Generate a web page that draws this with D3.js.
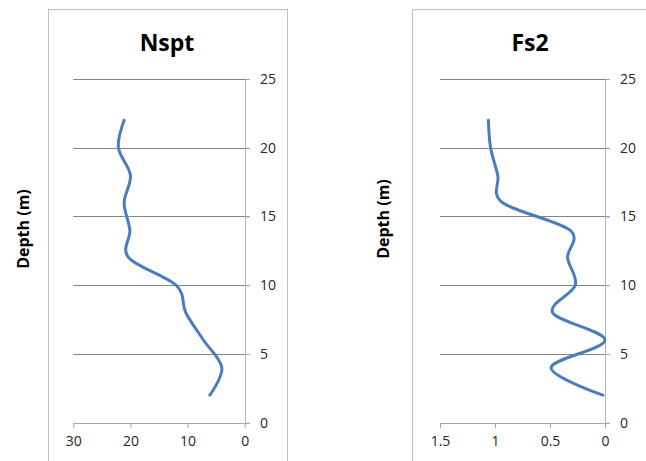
<!DOCTYPE html>
<html>
<head>
<meta charset="utf-8">
<script src="https://cdn.jsdelivr.net/npm/d3@7/dist/d3.min.js"></script>
<style>
  html, body { margin: 0; padding: 0; background: #fff; }
  svg { display: block; }
  text { font-family: "Open Sans", "Liberation Sans", sans-serif; }
</style>
</head>
<body>
<svg id="chart" width="646" height="461"></svg>
<script>
// ---- data ----
const depths = [2, 4, 6, 8, 10, 12, 14, 16, 18, 20, 22];
const nspt   = [6.1, 4.0, 7.2, 10.3, 12.0, 20.3, 20.1, 21.1, 20.0, 22.1, 21.1];
const fs2    = [0.02, 0.49, 0.0, 0.475, 0.27, 0.34, 0.318, 0.93, 0.975, 1.04, 1.06];
const depthTicks = [0, 5, 10, 15, 20, 25];
const nsptTicks = [30, 20, 10, 0];
const fs2Ticks = [1.5, 1, 0.5, 0];
const titles = ["Nspt", "Fs2"];
const yLabel = "Depth (m)";

const svg = d3.select("#chart");
svg.append("rect").attr("width", 646).attr("height", 461).attr("fill", "#fff");

const panels = [
  { title: titles[0], values: nspt, ticks: nsptTicks, domain: [30, 0],
    box: [48, 9, 239], x0: 73.3, x1: 244.7, titleX: 167, labelX: 29, labelY: 229, fmt: d3.format("d") },
  { title: titles[1], values: fs2, ticks: fs2Ticks, domain: [1.5, 0],
    box: [412, 9, 260], x0: 440, x1: 605, titleX: 530, labelX: 389, labelY: 219, fmt: d => String(d) }
];

const y = d3.scaleLinear().domain([0, 25]).range([422.7, 79]);

panels.forEach(p => {
  const g = svg.append("g");
  // outer chart border
  g.append("rect")
    .attr("x", p.box[0] + 0.5).attr("y", p.box[1] + 0.5)
    .attr("width", p.box[2]).attr("height", 480)
    .attr("fill", "none").attr("stroke", "#bfbfbf").attr("stroke-width", 1);

  const x = d3.scaleLinear().domain(p.domain).range([p.x0, p.x1]);

  // gridlines (extend past axis as tick marks)
  g.selectAll(".grid").data(depthTicks.filter(d => d > 0)).enter().append("line")
    .attr("x1", p.x0).attr("x2", p.x1 + 4.5)
    .attr("y1", d => Math.round(y(d)) + 0.5).attr("y2", d => Math.round(y(d)) + 0.5)
    .attr("stroke", "#868686").attr("stroke-width", 1);

  // x axis (bottom)
  const xAxis = d3.axisBottom(x).tickValues(p.ticks).tickSize(4.5).tickPadding(8).tickFormat(p.fmt);
  const xa = g.append("g").attr("transform", `translate(0,${Math.round(y(0)) + 0.5})`).call(xAxis);
  xa.select(".domain").attr("d", `M${p.x0},0H${p.x1 + 4.5}`).attr("stroke", "#a6a6a6");
  xa.selectAll(".tick line").attr("stroke", "#a6a6a6");
  xa.selectAll(".tick text").attr("font-size", 14).attr("fill", "#262626").attr("dy", "0.71em");

  // y axis (right side of plot)
  const yAxis = d3.axisRight(y).tickValues(depthTicks).tickSize(4.5).tickPadding(10).tickFormat(d3.format("d"));
  const ya = g.append("g").attr("transform", `translate(${Math.round(p.x1) + 0.5},0)`).call(yAxis);
  ya.select(".domain").attr("d", `M0,${y(25) - 1}V${y(0) + 1}`).attr("stroke", "#b3b3b3");
  ya.selectAll(".tick line").attr("stroke", "#a6a6a6");
  ya.selectAll(".tick text").attr("font-size", 14).attr("fill", "#262626");

  // title
  g.append("text").attr("x", p.titleX).attr("y", 51).attr("text-anchor", "middle")
    .attr("font-size", 23).attr("font-weight", "bold").attr("fill", "#000").text(p.title);

  // y label
  g.append("text").attr("transform", `translate(${p.labelX},${p.labelY}) rotate(-90)`)
    .attr("text-anchor", "middle").attr("font-size", 16).attr("font-weight", "bold")
    .attr("fill", "#000").text(yLabel);

  // smoothed line
  const pts = depths.map((d, i) => [x(p.values[i]), y(d)]);
  g.append("path").datum(pts)
    .attr("d", d3.line().curve(d3.curveCardinal.tension(0)))
    .attr("fill", "none").attr("stroke", "#4a7ebb").attr("stroke-width", 3)
    .attr("stroke-linecap", "round").attr("stroke-linejoin", "round");
});
</script>
</body>
</html>
